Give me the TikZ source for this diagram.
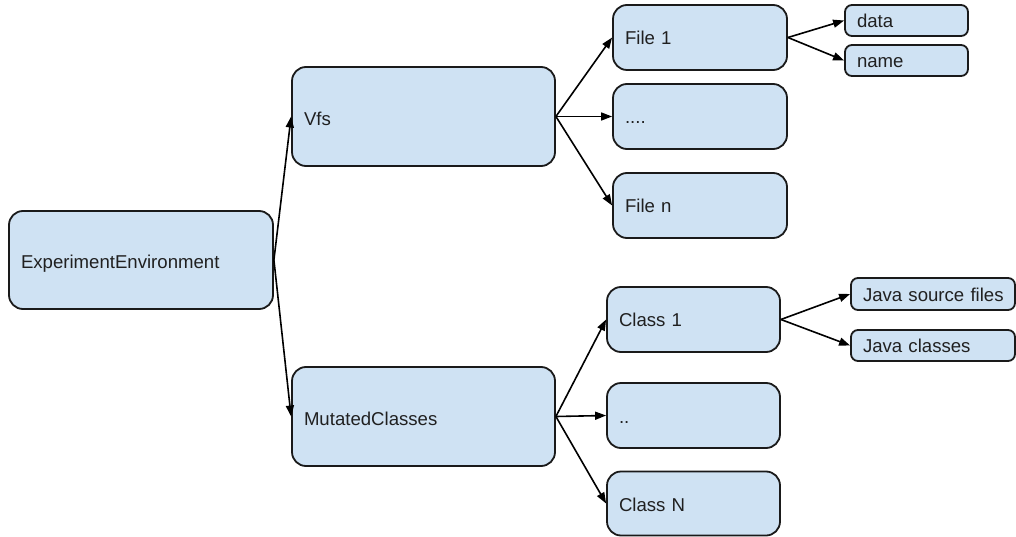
\documentclass[tikz,border=0pt]{standalone}
\usepackage{fontspec}
\setmainfont{Liberation Sans}
\usetikzlibrary{arrows.meta}
\definecolor{boxfill}{HTML}{CFE2F3}
\definecolor{boxline}{HTML}{1A1A1A}
\definecolor{txt}{HTML}{202020}
\newcommand{\bline}[2]{\raisebox{-#1}[0pt][0pt]{#2}}
\begin{document}
\begin{tikzpicture}[x=1pt,y=-1pt,
  box/.style={draw=boxline, fill=boxfill, line width=1.8pt, rounded corners=14pt, text=txt,
    inner xsep=12pt, inner ysep=0pt, align=left, font=\fontsize{18.6}{22}\selectfont},
  sbox/.style={box, rounded corners=7pt},
  conn/.style={draw=black, line width=1.6pt, -{Triangle[length=11pt,width=8pt]}}]
\useasboundingbox (0,0) rectangle (1016,537);
% big boxes
\node[box, minimum width=264pt, minimum height=98pt, text width=240pt] (ee) at (141,260) {\bline{8.5pt}{ExperimentEnvironment}};
\node[box, minimum width=263pt, minimum height=99pt, text width=239pt] (vfs) at (423.5,116.5) {\bline{9pt}{Vfs}};
\node[box, minimum width=263pt, minimum height=99pt, text width=239pt] (mc) at (423.5,416.5) {\bline{8.5pt}{MutatedClasses}};
% middle boxes
\node[box, minimum width=174pt, minimum height=65pt, text width=150pt] (f1) at (700,37.5) {\bline{7pt}{File 1}};
\node[box, minimum width=174pt, minimum height=65pt, text width=150pt] (fd) at (700,116.5) {\bline{7.5pt}{....}};
\node[box, minimum width=174pt, minimum height=65pt, text width=150pt] (fn) at (700,205.5) {\bline{7pt}{File n}};
\node[box, minimum width=173pt, minimum height=65pt, text width=149pt] (c1) at (693.5,319.5) {\bline{7pt}{Class 1}};
\node[box, minimum width=173pt, minimum height=65pt, text width=149pt] (cd) at (693.5,415.5) {\bline{7.5pt}{..}};
\node[box, minimum width=173pt, minimum height=64pt, text width=149pt] (cn) at (693.5,503.5) {\bline{8pt}{Class N}};
% small boxes
\node[sbox, minimum width=123pt, minimum height=31pt, text width=99pt] (data) at (906.5,20.5) {\bline{7pt}{data}};
\node[sbox, minimum width=123pt, minimum height=31pt, text width=99pt] (name) at (906.5,60.5) {\bline{7pt}{name}};
\node[sbox, minimum width=164pt, minimum height=32pt, text width=148pt, inner xsep=8pt] (jsf) at (933,294) {\hspace*{4pt}\bline{7pt}{Java source files}};
\node[sbox, minimum width=164pt, minimum height=31pt, text width=148pt, inner xsep=8pt] (jc) at (933,345.5) {\hspace*{4pt}\bline{7pt}{Java classes}};
% connectors
\draw[conn] (ee.east) -- (vfs.west);
\draw[conn] (ee.east) -- (mc.west);
\draw[conn] (vfs.east) -- (f1.west);
\draw[conn] (vfs.east) -- (fd.west);
\draw[conn] (vfs.east) -- (fn.west);
\draw[conn] (mc.east) -- (c1.west);
\draw[conn] (mc.east) -- (cd.west);
\draw[conn] (mc.east) -- (cn.west);
\draw[conn] (f1.east) -- (data.west);
\draw[conn] (f1.east) -- (name.west);
\draw[conn] (c1.east) -- (jsf.west);
\draw[conn] (c1.east) -- (jc.west);
\end{tikzpicture}
\end{document}
